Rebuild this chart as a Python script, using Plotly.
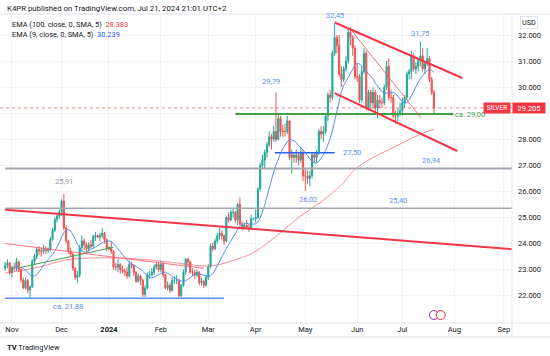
import pandas as pd
import plotly.graph_objects as go

# ---------------- data ----------------
dates = pd.bdate_range("2023-10-27", "2024-07-19")

opens = [
    23.05, 23.15, 23.25,
    22.88, 23.08, 23.05, 23.30, 23.00, 22.60, 22.30, 22.58, 22.22, 22.33, 23.32, 23.50, 23.77, 23.72, 23.70, 23.78, 23.73, 23.76, 24.16, 24.51, 24.93, 25.06,
    25.21, 25.63, 24.60, 24.10, 23.70, 23.60, 23.05, 22.70, 22.80, 23.85, 24.10, 23.95, 23.80, 23.95, 23.90, 24.25, 24.30, 24.25, 24.30, 24.40, 24.15,
    23.80, 23.85, 23.70, 23.10, 23.10, 23.20, 23.00, 22.95, 22.90, 22.75, 23.20, 23.15, 22.90, 22.55, 22.75, 22.60, 22.05, 22.30, 22.80, 22.80, 22.90, 23.10, 23.20,
    23.00, 23.20, 22.80, 22.30, 22.40, 22.20, 22.60, 22.60, 22.60, 22.00, 22.40, 22.90, 23.40, 23.30, 22.90, 22.90, 22.80, 22.90, 22.50, 22.55, 22.40,
    22.70, 23.10, 23.90, 23.80, 24.10, 24.30, 24.40, 24.30, 24.10, 25.00, 24.90, 25.20, 25.20, 24.90, 25.50, 24.75, 24.60, 24.70, 24.60, 24.60, 24.95,
    24.95, 25.00, 26.10, 27.00, 27.20, 27.50, 27.80, 28.10, 28.00, 28.30, 28.00, 28.80, 28.30, 28.30, 28.30, 28.70, 27.30, 27.40, 27.30, 27.40, 27.20, 27.50,
    26.60, 26.60, 26.50, 26.60, 27.40, 27.30, 27.50, 28.30, 28.20, 28.30, 28.90, 29.70, 29.60, 31.30, 31.90, 31.60, 30.50, 30.30, 30.70, 31.00, 32.10, 31.90, 31.50,
    30.40, 30.40, 29.50, 30.60, 31.30, 29.20, 29.80, 29.40, 29.80, 29.20, 29.50, 29.40, 29.40, 30.00, 30.80, 29.60, 29.60, 28.90, 28.90, 29.00,
    29.10, 29.40, 29.60, 30.50, 30.60, 31.20, 30.70, 30.80, 31.00, 31.20, 30.70, 30.90, 31.10, 30.30, 29.80,
]
highs = [
    23.30, 23.40, 23.30,
    23.15, 23.25, 23.45, 23.35, 23.05, 22.70, 22.70, 22.65, 22.40, 23.40, 23.60, 23.85, 23.90, 23.85, 23.95, 23.90, 23.85, 24.25, 24.60, 25.00, 25.15, 25.30,
    25.70, 25.91, 24.70, 24.15, 23.85, 23.65, 23.10, 22.95, 23.95, 24.30, 24.20, 24.05, 24.05, 24.15, 24.35, 24.45, 24.35, 24.40, 24.60, 24.45, 24.20,
    23.90, 24.10, 23.75, 23.25, 23.40, 23.25, 23.15, 23.05, 23.10, 23.35, 23.30, 23.20, 22.95, 22.85, 22.80, 22.65, 22.40, 22.90, 22.95, 23.05, 23.20, 23.30, 23.30,
    23.35, 23.30, 22.85, 22.55, 22.50, 22.70, 22.75, 22.80, 22.65, 22.45, 23.00, 23.45, 23.45, 23.35, 23.05, 23.00, 23.00, 22.95, 22.70, 22.60, 22.80,
    23.20, 24.00, 24.05, 24.20, 24.40, 24.60, 24.50, 24.35, 25.05, 25.20, 25.30, 25.35, 25.25, 25.55, 25.77, 24.85, 24.80, 24.90, 24.75, 25.10, 25.00,
    25.30, 26.15, 27.10, 27.40, 27.60, 27.90, 28.30, 28.20, 28.50, 29.79, 29.00, 28.90, 28.55, 28.60, 28.90, 28.75, 27.60, 27.50, 27.60, 27.50, 27.70, 27.60,
    26.90, 26.80, 26.80, 27.50, 27.50, 27.60, 28.40, 28.50, 28.50, 29.00, 29.80, 29.90, 31.40, 32.45, 32.00, 32.00, 30.80, 30.80, 31.20, 32.28, 32.30, 32.00, 31.60,
    30.90, 30.50, 30.80, 31.50, 31.40, 29.90, 29.90, 30.00, 29.90, 29.70, 29.70, 29.60, 30.10, 31.00, 31.10, 29.90, 29.70, 29.10, 29.20, 29.40,
    29.60, 29.70, 30.60, 30.70, 31.40, 31.30, 30.95, 31.10, 31.75, 31.50, 31.00, 31.50, 31.20, 30.40, 29.90,
]
lows = [
    22.95, 23.05, 22.80,
    22.70, 22.95, 22.95, 22.90, 22.50, 22.25, 22.25, 22.10, 21.90, 22.30, 23.20, 23.40, 23.55, 23.50, 23.60, 23.60, 23.65, 23.70, 24.10, 24.45, 24.80, 24.95,
    25.05, 24.50, 24.00, 23.60, 23.50, 22.95, 22.60, 22.50, 22.70, 23.70, 23.75, 23.65, 23.70, 23.80, 23.85, 24.10, 24.20, 24.10, 24.20, 24.00, 23.70,
    23.75, 23.60, 23.00, 22.95, 22.90, 22.85, 22.85, 22.75, 22.65, 22.70, 23.05, 22.75, 22.50, 22.50, 22.40, 21.95, 21.95, 22.25, 22.65, 22.75, 22.80, 23.00, 22.90,
    22.90, 22.70, 22.25, 22.20, 22.10, 22.15, 22.45, 22.45, 21.93, 21.95, 22.35, 22.80, 23.15, 22.85, 22.75, 22.65, 22.70, 22.40, 22.40, 22.30, 22.35,
    22.60, 23.05, 23.70, 23.75, 24.00, 24.15, 24.15, 23.95, 24.05, 24.80, 24.85, 25.00, 24.80, 24.70, 24.70, 24.50, 24.55, 24.55, 24.45, 24.55, 24.90,
    24.80, 24.95, 26.00, 26.85, 26.90, 27.30, 27.70, 27.60, 27.90, 27.90, 27.95, 28.10, 28.10, 28.10, 28.20, 27.20, 26.70, 27.10, 27.10, 27.00, 27.10, 26.40,
    26.02, 26.30, 26.20, 26.50, 27.10, 27.10, 27.40, 28.00, 27.90, 28.20, 28.70, 29.40, 29.50, 31.20, 31.30, 30.40, 30.00, 30.20, 30.60, 30.90, 31.60, 31.20, 30.30,
    30.20, 29.40, 29.40, 30.50, 29.10, 29.10, 29.10, 29.20, 29.00, 28.80, 29.20, 29.20, 29.30, 29.90, 29.50, 29.40, 28.80, 28.60, 28.70, 28.90,
    28.90, 29.20, 29.50, 30.30, 30.30, 30.60, 30.50, 30.60, 30.80, 30.60, 30.50, 30.80, 30.20, 29.70, 28.93,
]
closes = [
    23.15, 23.25, 22.88,
    23.08, 23.05, 23.30, 23.00, 22.60, 22.30, 22.58, 22.22, 22.33, 23.32, 23.50, 23.77, 23.72, 23.70, 23.78, 23.73, 23.76, 24.16, 24.51, 24.93, 25.06, 25.21,
    25.63, 24.60, 24.10, 23.70, 23.60, 23.05, 22.70, 22.80, 23.85, 24.10, 23.95, 23.80, 23.95, 23.90, 24.25, 24.30, 24.25, 24.30, 24.40, 24.15, 23.80,
    23.85, 23.70, 23.10, 23.10, 23.20, 23.00, 22.95, 22.90, 22.75, 23.20, 23.15, 22.90, 22.55, 22.75, 22.60, 22.05, 22.30, 22.80, 22.80, 22.90, 23.10, 23.20, 23.00,
    23.20, 22.80, 22.30, 22.40, 22.20, 22.60, 22.60, 22.60, 22.00, 22.40, 22.90, 23.40, 23.30, 22.90, 22.90, 22.80, 22.90, 22.50, 22.55, 22.40, 22.70,
    23.10, 23.90, 23.80, 24.10, 24.30, 24.40, 24.30, 24.10, 25.00, 24.90, 25.20, 25.20, 24.90, 25.50, 24.75, 24.60, 24.70, 24.60, 24.60, 24.95, 24.95,
    25.00, 26.10, 27.00, 27.20, 27.50, 27.80, 28.10, 28.00, 28.30, 28.00, 28.80, 28.30, 28.30, 28.30, 28.70, 27.30, 27.40, 27.30, 27.40, 27.20, 27.50, 26.60,
    26.60, 26.50, 26.60, 27.40, 27.30, 27.50, 28.30, 28.20, 28.30, 28.90, 29.70, 29.60, 31.30, 31.90, 31.60, 30.50, 30.30, 30.70, 31.00, 32.10, 31.90, 31.50, 30.40,
    30.40, 29.50, 30.60, 31.30, 29.20, 29.80, 29.40, 29.80, 29.20, 29.50, 29.40, 29.40, 30.00, 30.80, 29.60, 29.60, 28.90, 28.90, 29.00, 29.10,
    29.40, 29.60, 30.50, 30.60, 31.20, 30.70, 30.80, 31.00, 31.20, 30.70, 30.90, 31.10, 30.30, 29.80, 29.205,
]

# EMA(100) curve
ema100_dates = ["2023-10-27", "2023-11-17", "2023-12-05", "2023-12-22", "2024-01-16", "2024-02-06",
                "2024-02-26", "2024-03-05", "2024-03-20", "2024-04-01", "2024-04-15", "2024-04-26",
                "2024-05-10", "2024-05-23", "2024-05-31", "2024-06-12", "2024-06-21", "2024-07-02",
                "2024-07-11", "2024-07-19"]
ema100_vals = [22.87, 23.10, 23.37, 23.45, 23.42, 23.30, 23.15, 23.15, 23.40, 23.70, 24.35, 25.00,
               25.60, 26.25, 26.85, 27.30, 27.60, 27.90, 28.20, 28.383]

month_ticks = ["2023-11-01", "2023-12-01", "2024-01-01", "2024-02-01", "2024-03-01", "2024-04-01",
               "2024-05-01", "2024-06-03", "2024-07-01", "2024-08-01", "2024-09-02"]
month_labels = ["Nov", "Dec", "<b>2024</b>", "Feb", "Mar", "Apr", "May", "Jun", "Jul", "Aug", "Sep"]
price_ticks = [22, 23, 24, 25, 26, 27, 28, 29, 30, 31, 32]
# 29.000 sits under the last-price label in the reference
price_labels = ["22.000", "23.000", "24.000", "25.000", "26.000", "27.000", "28.000", "",
                "30.000", "31.000", "32.000"]

last_price = 29.205
legend_ema100 = "28.383"
legend_ema9 = "30.239"

if not (len(dates) == len(opens) == len(highs) == len(lows) == len(closes)):
    raise SystemExit(f"length mismatch {len(dates)} {len(opens)} {len(highs)} {len(lows)} {len(closes)}")

UP = "#26a69a"
DN = "#ef5350"
RED = "#f23645"
BLUE = "#5b8def"
FONT = "Roboto"

ema9 = pd.Series(closes).ewm(span=9, adjust=False).mean().rolling(5).mean()

fig = go.Figure()
fig.add_trace(go.Scatter(x=ema100_dates, y=ema100_vals, mode="lines",
                         line=dict(color="#f7525f", width=1, shape="spline"),
                         opacity=0.65, hoverinfo="skip", showlegend=False))
fig.add_trace(go.Candlestick(
    x=dates, open=opens, high=highs, low=lows, close=closes,
    increasing=dict(line=dict(color=UP, width=1), fillcolor=UP),
    decreasing=dict(line=dict(color=DN, width=1), fillcolor=DN),
    whiskerwidth=0, showlegend=False, hoverinfo="skip"))
fig.add_trace(go.Scatter(x=dates, y=ema9, mode="lines",
                         line=dict(color="#5b8def", width=1),
                         hoverinfo="skip", showlegend=False))

def seg(x0, y0, x1, y1, color, width, dash="solid", opacity=1.0):
    fig.add_shape(type="line", xref="x", yref="y", x0=x0, y0=y0, x1=x1, y1=y1,
                  line=dict(color=color, width=width, dash=dash), opacity=opacity, layer="above")

# drawings
seg("2023-10-27", 25.30, "2024-09-06", 23.78, RED, 2)                       # long down line
seg("2023-10-27", 26.88, "2024-09-10", 26.88, "#a3a6af", 2)                 # 26,94
seg("2023-10-27", 25.35, "2024-09-10", 25.35, "#a3a6af", 1.5)               # 25,40
seg("2023-10-27", 21.90, "2024-03-12", 21.90, BLUE, 1.5)                     # ca 21,88
seg("2024-03-19", 28.97, "2024-07-31 14:00", 28.97, "#43a047", 2)           # ca 29,00
seg("2024-04-11 12:00", 27.48, "2024-05-20", 27.48, "#2962ff", 1.5)         # 27,50
seg("2023-11-06 14:00", 23.08, "2024-01-03", 23.86, "#43a047", 1)            # green trend
seg("2023-10-27", 24.00, "2024-02-28", 23.05, "#f7525f", 1, opacity=0.8)   # thin red trend
seg("2024-05-20", 32.48, "2024-08-06 14:00", 30.35, RED, 2)                 # channel top
seg("2024-05-20", 29.77, "2024-08-02 08:00", 27.55, RED, 2)                 # channel bottom
seg("2024-05-28 14:00", 32.27, "2024-07-11 12:00", 28.80, "#f7525f", 1, opacity=0.8)
# last price line
fig.add_shape(type="line", xref="paper", yref="y", x0=0, x1=1, y0=last_price, y1=last_price,
              line=dict(color=RED, width=1, dash="dot"), opacity=0.6)

# frame lines (pixel -> paper)
H_PLOT = 309.0
def py(px):
    return (323.0 - px) / H_PLOT
fr = "#e0e3eb"
fig.add_shape(type="line", xref="paper", yref="paper", x0=0, x1=550 / 512, y0=0, y1=0, line=dict(color=fr, width=1))
fig.add_shape(type="line", xref="paper", yref="paper", x0=0, x1=550 / 512, y0=py(337), y1=py(337), line=dict(color=fr, width=1))
fig.add_shape(type="line", xref="paper", yref="paper", x0=0, x1=550 / 512, y0=1, y1=1, line=dict(color=fr, width=1))
fig.add_shape(type="line", xref="paper", yref="paper", x0=1, x1=1, y0=py(337), y1=1, line=dict(color=fr, width=1))

# event icons
for xc, col in [("2024-07-19", "#9c27b0"), ("2024-07-24", RED)]:
    fig.add_shape(type="circle", xref="x", yref="paper", xsizemode="pixel", ysizemode="pixel",
                  xanchor=xc, yanchor=py(315), x0=-4.5, x1=4.5, y0=-4.5, y1=4.5,
                  line=dict(color=col, width=1), fillcolor="rgba(255,255,255,0.9)")

def ann(text, x, y, xref="x", yref="y", color=BLUE, size=7.5, xanchor="center", yanchor="middle",
        yshift=0, xshift=0, **kw):
    fig.add_annotation(text=text, x=x, y=y, xref=xref, yref=yref, showarrow=False,
                       font=dict(family=FONT, size=size, color=color), xanchor=xanchor,
                       yanchor=yanchor, yshift=yshift, xshift=xshift, **kw)

ann("32,45", "2024-05-20", 32.45, yanchor="bottom", yshift=1)
ann("31,75", "2024-07-11", 31.75, yanchor="bottom", yshift=2)
ann("29,79", "2024-04-10", 29.79, yanchor="bottom", yshift=5)
ann("26,02", "2024-05-02", 26.02, yanchor="top", yshift=-2)
ann("27,50", "2024-05-23", 27.48, xanchor="left")
ann("26,94", "2024-07-18", 26.88, yanchor="bottom", yshift=1)
ann("25,40", "2024-06-27", 25.35, yanchor="bottom", yshift=1)
ann("25,91", "2023-12-04", 25.91, color="#9598a1", yanchor="bottom", yshift=6)
ann("ca. 21,88", "2023-12-06", 21.90, yanchor="top", yshift=-2)
ann("ca. 29,00", "2024-08-01", 28.97, color="#43a047", xanchor="left", xshift=-1)

# header / legend
ann("K4PR published on TradingView.com, Jul 21, 2024 21:01 UTC+2", 5 / 512, py(8), xref="paper",
    yref="paper", color="#131722", size=7.8, xanchor="left")
ann(f"EMA (100, close, 0, SMA, 5)  <span style='color:{RED}'>{legend_ema100}</span>", 10 / 512, py(24.5),
    xref="paper", yref="paper", color="#131722", size=7.4, xanchor="left")
ann(f"EMA (9, close, 0, SMA, 5)  <span style='color:#2962ff'>{legend_ema9}</span>", 10 / 512, py(34),
    xref="paper", yref="paper", color="#131722", size=7.4, xanchor="left")
ann("USD", 529 / 512, py(23), xref="paper", yref="paper", color="#131722", size=7.2,
    bordercolor="#e0e3eb", borderwidth=1, borderpad=1)
ann("<b>TV</b> TradingView", 5 / 512, py(347), xref="paper", yref="paper", color="#131722", size=7.5,
    xanchor="left")

# price labels
fig.add_annotation(text="SILVER", x=511 / 512, y=last_price, xref="paper", yref="y", showarrow=False,
                   xanchor="right", yanchor="middle", bgcolor=RED, width=26, height=10,
                   font=dict(family=FONT, size=6.5, color="white"), borderpad=0)
fig.add_annotation(text=f"{last_price:.3f}", x=1.0, y=last_price, xref="paper", yref="y", showarrow=False,
                   xanchor="left", yanchor="middle", bgcolor=RED, width=32, height=10,
                   font=dict(family=FONT, size=7.5, color="white"), borderpad=0)

fig.update_layout(
    width=550, height=356,
    margin=dict(l=0, r=38, t=14, b=33),
    paper_bgcolor="white", plot_bgcolor="white",
    font=dict(family=FONT, size=7.5, color="#131722"),
    showlegend=False,
    xaxis=dict(type="date", rangebreaks=[dict(bounds=["sat", "mon"])],
               range=["2023-10-24 17:00", "2024-09-05 14:00"],
               tickvals=month_ticks, ticktext=month_labels, showgrid=True, gridcolor="#f2f3f7",
               gridwidth=1, zeroline=False, showline=False, ticks="", rangeslider=dict(visible=False),
               tickfont=dict(family=FONT, size=7.5, color="#131722"), fixedrange=True),
    yaxis=dict(side="right", range=[20.953, 32.806], tickvals=price_ticks, ticktext=price_labels,
               showgrid=True, gridcolor="#f2f3f7", zeroline=False, showline=False, ticks="",
               ticklabelstandoff=5, tickfont=dict(family=FONT, size=7.5, color="#131722"),
               fixedrange=True),
)

fig.write_html("out.html", config={"displayModeBar": False},
               post_script="document.body.style.margin='0';document.body.style.overflow='hidden';")
